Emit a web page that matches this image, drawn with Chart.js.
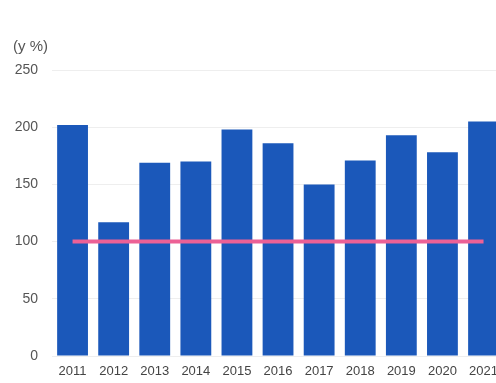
<!DOCTYPE html>
<html>
<head>
<meta charset="utf-8">
<script src="https://cdn.jsdelivr.net/npm/chart.js@4/dist/chart.umd.min.js"></script>
<style>
  html, body { margin: 0; padding: 0; background: #fff; overflow: hidden; }
  #wrap { position: relative; width: 506px; height: 383px; }
  #unit { position: absolute; left: 13px; top: 37px; font: 15px "Liberation Sans", Arial, sans-serif; color: #555; }
</style>
</head>
<body>
<div id="wrap">
  <div id="unit">(y %)</div>
  <canvas id="c"></canvas>
</div>
<script>
// Years shown along the bottom axis
const years = ['2011', '2012', '2013', '2014', '2015', '2016', '2017', '2018', '2019', '2020', '2021'];
// Yearly ratio, percent
const ratios = [202, 117, 169, 170, 198, 186, 150, 171, 193, 178, 205];
// Reference level at 100 %
const baseline = [100, 100, 100, 100, 100, 100, 100, 100, 100, 100, 100];
// Value axis range and step
const yMin = 0, yMax = 250, yStep = 50;

new Chart(document.getElementById('c'), {
  data: {
    labels: years,
    datasets: [
      {
        type: 'line',
        data: baseline,
        borderColor: '#ec6196',
        borderWidth: 4,
        pointRadius: 0,
        fill: false,
        order: 0
      },
      {
        type: 'bar',
        data: ratios,
        backgroundColor: '#1b58ba',
        categoryPercentage: 1,
        barPercentage: 0.75,
        order: 1
      }
    ]
  },
  options: {
    responsive: true,
    maintainAspectRatio: false,
    animation: false,
    layout: { padding: { top: 70, left: 0, right: 0, bottom: 3 } },
    plugins: { legend: { display: false }, tooltip: { enabled: false } },
    scales: {
      x: {
        offset: true,
        grid: { display: false, drawTicks: false },
        border: { display: false },
        ticks: {
          color: '#444',
          padding: 8,
          maxRotation: 0,
          autoSkip: false,
          font: { family: '"Liberation Sans", Arial, sans-serif', size: 13 }
        },
        afterFit(scale) { scale.height = 24; }
      },
      y: {
        min: yMin,
        max: yMax,
        grid: { color: '#eeeeee', drawTicks: false },
        border: { display: false },
        ticks: {
          stepSize: yStep,
          color: '#555',
          padding: 14,
          font: { family: '"Liberation Sans", Arial, sans-serif', size: 14 }
        },
        afterFit(scale) { scale.width = 52; }
      }
    }
  }
});
</script>
</body>
</html>
